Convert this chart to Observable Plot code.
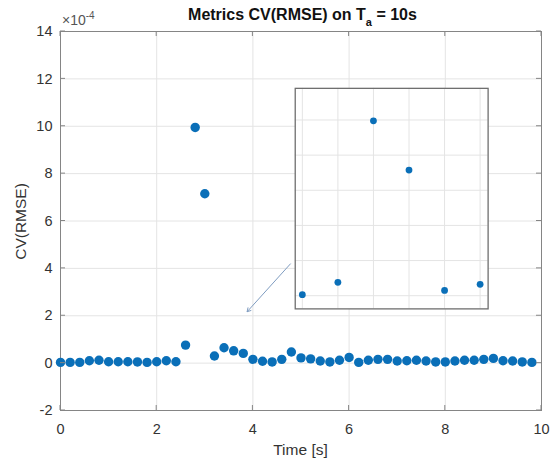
<!DOCTYPE html>
<html><head><meta charset="utf-8">
<script src="https://cdn.jsdelivr.net/npm/d3@7"></script>
<script src="https://cdn.jsdelivr.net/npm/@observablehq/plot@0.6"></script>
<style>body{margin:0;background:#fff}</style>
</head><body><div id="chart"></div>
<script>
// Data (values shown in units of 1e-4)
const time = [0.0,0.2,0.4,0.6,0.8,1.0,1.2,1.4,1.6,1.8,2.0,2.2,2.4,2.6,2.8,3.0,3.2,3.4,3.6,3.8,4.0,4.2,4.4,4.6,4.8,5.0,5.2,5.4,5.6,5.8,6.0,6.2,6.4,6.6,6.8,7.0,7.2,7.4,7.6,7.8,8.0,8.2,8.4,8.6,8.8,9.0,9.2,9.4,9.6,9.8];
const cvrmse = [0.03,0.03,0.03,0.10,0.12,0.06,0.06,0.06,0.05,0.03,0.06,0.10,0.06,0.76,9.95,7.15,0.30,0.65,0.52,0.41,0.16,0.08,0.05,0.16,0.47,0.22,0.18,0.09,0.05,0.12,0.24,0.03,0.12,0.16,0.16,0.09,0.10,0.12,0.09,0.05,0.05,0.09,0.12,0.12,0.16,0.20,0.10,0.09,0.05,0.03];
const xTicks = [0,2,4,6,8,10];
const yTicks = [-2,0,2,4,6,8,10,12,14];
const insetXTicks = [2.4,2.6,2.8,3.0,3.2,3.4];
const insetYTicks = [0,2,4,6,8,10];
const insetXDomain = [2.36, 3.445];
const insetYDomain = [-0.75, 11.8];
const insetBoxX = [4.88, 8.89];
const insetBoxY = [2.29, 11.6];
const arrowStart = [4.78, 4.19];
const arrowEnd = [3.88, 2.17];

const data = time.map((t, i) => ({t, v: cvrmse[i]}));
const arrowData = [{x1: arrowStart[0], y1: arrowStart[1], x2: arrowEnd[0], y2: arrowEnd[1]}];

const font = "'Liberation Sans', Arial, Helvetica, sans-serif";
const dotColor = "#0a6fb8";
const gridColor = "#e4e4e4";

const plot = Plot.plot({
  width: 554, height: 464,
  marginLeft: 60, marginRight: 13, marginTop: 31, marginBottom: 54,
  style: {fontFamily: font, fontSize: "14px", background: "#fff", overflow: "visible"},
  x: {domain: [0, 10]},
  y: {domain: [-2, 14]},
  marks: [
    Plot.gridX(xTicks.slice(1, -1), {stroke: gridColor, strokeOpacity: 1}),
    Plot.gridY(yTicks.slice(1, -1), {stroke: gridColor, strokeOpacity: 1}),
    Plot.axisX(xTicks, {tickSize: 0, tickPadding: 13, fontSize: 14.5, fill: "#333", label: null, tickFormat: d => String(d)}),
    Plot.axisY(yTicks, {tickSize: 0, tickPadding: 8, fontSize: 14.5, fill: "#333", label: null, tickFormat: d => String(d)}),
    Plot.frame({stroke: "#858585"}),
    Plot.dot(data, {x: "t", y: "v", r: 4.7, fill: dotColor, stroke: "none"}),
    Plot.arrow(arrowData, {x1: "x1", y1: "y1", x2: "x2", y2: "y2", stroke: "#7f9cc0", strokeWidth: 1, headLength: 6})
  ]
});

const sx = plot.scale("x"), sy = plot.scale("y");
const svg = d3.select(plot);
const L = sx.apply(0), R = sx.apply(10), T = sy.apply(14), B = sy.apply(-2);
const tl = 5;
const tg = svg.append("g").attr("stroke", "#858585").attr("stroke-width", 1);
xTicks.forEach(v => {
  const px = sx.apply(v);
  tg.append("line").attr("x1", px).attr("x2", px).attr("y1", B).attr("y2", B - tl);
  tg.append("line").attr("x1", px).attr("x2", px).attr("y1", T).attr("y2", T + tl);
});
yTicks.forEach(v => {
  const py = sy.apply(v);
  tg.append("line").attr("x1", L).attr("x2", L + tl).attr("y1", py).attr("y2", py);
  tg.append("line").attr("x1", R).attr("x2", R - tl).attr("y1", py).attr("y2", py);
});

// Title
const title = svg.append("text").attr("x", (L + R) / 2 + 2).attr("y", 20)
  .attr("text-anchor", "middle").attr("font-family", font).attr("font-weight", "bold")
  .attr("font-size", 16).attr("fill", "#111");
title.append("tspan").text("Metrics CV(RMSE) on T");
title.append("tspan").attr("dy", 6).attr("font-size", 11).text("a");
title.append("tspan").attr("dy", -6).text(" = 10s");

// Axis labels
svg.append("text").attr("x", (L + R) / 2).attr("y", 455).attr("text-anchor", "middle")
  .attr("font-family", font).attr("font-size", 15.5).attr("fill", "#333").text("Time [s]");
svg.append("text").attr("transform", `translate(26,${(T + B) / 2 + 1}) rotate(-90)`)
  .attr("text-anchor", "middle").attr("font-family", font).attr("font-size", 15.5)
  .attr("fill", "#333").text("CV(RMSE)");

// Exponent label
const ex = svg.append("text").attr("x", L + 2).attr("y", 25).attr("text-anchor", "start")
  .attr("font-family", font).attr("font-size", 14).attr("fill", "#555");
ex.append("tspan").text("×10");
ex.append("tspan").attr("dy", -6).attr("font-size", 10).text("-4");

// Inset
const ix0 = sx.apply(insetBoxX[0]), ix1 = sx.apply(insetBoxX[1]);
const iy0 = sy.apply(insetBoxY[1]), iy1 = sy.apply(insetBoxY[0]);
const iw = ix1 - ix0, ih = iy1 - iy0;
const inset = Plot.plot({
  width: iw, height: ih, margin: 0,
  x: {domain: insetXDomain, axis: null},
  y: {domain: insetYDomain, axis: null},
  marks: [
    Plot.frame({fill: "white", stroke: "none"}),
    Plot.gridX(insetXTicks, {stroke: gridColor, strokeOpacity: 1}),
    Plot.gridY(insetYTicks, {stroke: gridColor, strokeOpacity: 1}),
    Plot.dot(data.filter(d => d.t >= insetXDomain[0] && d.t <= insetXDomain[1]), {x: "t", y: "v", r: 3.4, fill: dotColor, stroke: "none"}),
    Plot.frame({stroke: "#6f6f6f", strokeWidth: 1.3})
  ]
});
inset.setAttribute("style", `overflow:visible;width:${iw}px;height:${ih}px;max-width:none;`);
inset.setAttribute("x", ix0);
inset.setAttribute("y", iy0);
inset.setAttribute("width", iw);
inset.setAttribute("height", ih);
plot.appendChild(inset);

document.getElementById("chart").appendChild(plot);
</script>
</body></html>
